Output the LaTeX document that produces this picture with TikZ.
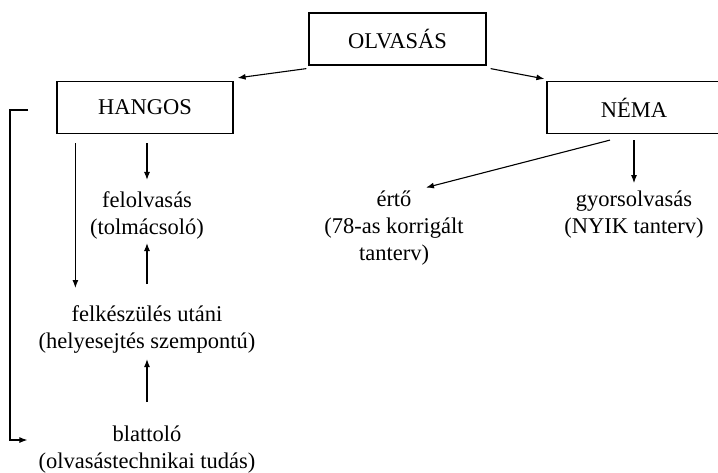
\documentclass[tikz,border=0pt]{standalone}
\usepackage{fontspec}
\setmainfont{Liberation Serif}
\usetikzlibrary{positioning,arrows.meta}

\begin{document}
\begin{tikzpicture}[x=1pt, y=-1pt,
        box/.style={rectangle, draw=black, line width=1.2pt, minimum height=52pt, inner sep=0pt, font=\fontsize{22.5}{27}\selectfont},
        txt/.style={inner sep=0pt, align=center, font=\fontsize{22.5}{27}\selectfont},
        arrow/.style={-{Latex[length=8pt,width=6pt]}, line width=1.1pt},
      ]
      \useasboundingbox (0,0) rectangle (718,473);
      \node [box, minimum width=177pt] (olv) at (397.5,39) {OLVASÁS};
      \node [box, minimum width=176pt] (hangos) at (145,107.5) {HANGOS};
      \node [box, minimum width=174pt] (nema) at (634,107.5) {NÉMA};
      \node [txt] (felolv) at (147,215) {felolvasás\\(tolmácsoló)};
      \node [txt, below=66pt of felolv] (felk) {felkészülés utáni\\(helyesejtés szempontú)};
      \node [txt, below=73pt of felk] (blatt) {blattoló\\(olvasástechnikai tudás)};
      \node [txt] (erto) at (394,228) {értő\\(78-as korrigált\\tanterv)};
      \node [txt] (gyors) at (634,215) {gyorsolvasás\\(NYIK tanterv)};
      \coordinate (brk) at (28,110);
      \draw [arrow] ([xshift=-2pt,yshift=-3pt]olv.south west) -- ([xshift=4pt,yshift=3pt]hangos.north east);
      \draw [arrow] ([xshift=4pt,yshift=-3pt]olv.south east) -- ([xshift=-2pt,yshift=2pt]nema.north west);
      \draw [arrow, shorten <=9pt, shorten >=11pt] (hangos.south -| felolv.north) -- (felolv.north);
      \draw [arrow, shorten <=9pt, shorten >=17pt] ([xshift=19pt]hangos.south west) -- ([xshift=19pt]hangos.south west |- felk.north);
      \draw [arrow, shorten <=21pt, shorten >=4pt] (felk.north) -- (felolv.south);
      \draw [arrow, shorten <=24pt, shorten >=6pt] (blatt.north) -- (felk.south);
      \draw [arrow, shorten <=6pt, shorten >=8pt] (nema.south -| gyors.north) -- (gyors.north);
      \draw [arrow] ([xshift=-24pt,yshift=-6pt]nema.south) -- ([xshift=32pt,yshift=3pt]erto.north);
      \draw [arrow, shorten >=11pt] (brk) -- ++(-18,0) |- ([yshift=10pt]blatt.west);
    \end{tikzpicture}
\end{document}
